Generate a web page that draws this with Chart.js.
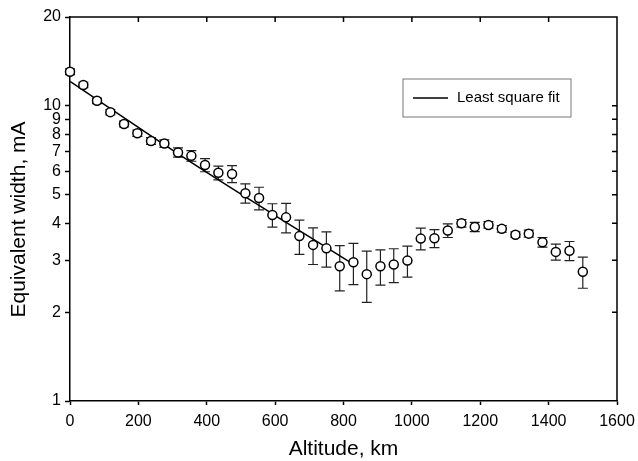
<!DOCTYPE html>
<html>
<head>
<meta charset="utf-8">
<script src="https://cdn.jsdelivr.net/npm/chart.js@4/dist/chart.umd.min.js"></script>
<style>
  html, body { margin: 0; padding: 0; background: #fff; }
</style>
</head>
<body>
<canvas id="widthChart" width="638" height="461"></canvas>
<script>
// Measured points (altitude in km, equivalent width in mA, +/- error)
const altitudeKm = [0, 39, 79, 118, 158, 197, 237, 276, 316, 355, 395, 434, 474, 513, 553, 592, 632, 671, 711, 750,
    789, 829, 868, 908, 947, 987, 1026, 1066, 1105, 1145, 1184, 1224, 1263, 1303, 1342, 1382, 1421, 1461, 1500];
const equivalentWidth = [13.05, 11.77, 10.4, 9.52, 8.68, 8.08, 7.6, 7.45, 6.95, 6.77, 6.3, 5.93, 5.88, 5.06, 4.87, 4.27, 4.19, 3.62, 3.38, 3.29,
    2.86, 2.95, 2.69, 2.86, 2.9, 2.99, 3.55, 3.56, 3.78, 4.0, 3.89, 3.95, 3.83, 3.66, 3.69, 3.45, 3.2, 3.23, 2.74];
const widthError = [0.3, 0.25, 0.22, 0.2, 0.2, 0.2, 0.2, 0.22, 0.25, 0.28, 0.32, 0.32, 0.39, 0.38, 0.43, 0.39, 0.48, 0.48, 0.48, 0.45,
    0.5, 0.47, 0.53, 0.39, 0.38, 0.36, 0.3, 0.25, 0.2, 0.12, 0.14, 0.1, 0.1, 0.08, 0.1, 0.13, 0.2, 0.24, 0.33];

// Least square fit
const fitAltitudeKm = [0, 200, 400, 600, 820];
const fitWidth = [12.1, 8.45, 5.95, 4.25, 2.95];

const xTickValues = [0, 200, 400, 600, 800, 1000, 1200, 1400, 1600];
const yTickValues = [1, 2, 3, 4, 5, 6, 7, 8, 9, 10, 20];
const yTickLabels = ['1', '2', '3', '4', '5', '6', '7', '8', '9', '10', '20'];

const legendLabel = 'Least square fit';
const xTitle = 'Altitude, km';
const yTitle = 'Equivalent width, mA';

const FONT = '"Liberation Sans", Arial, sans-serif';

const errorBars = {
    id: 'errorBars',
    beforeDatasetsDraw(chart) {
        const { ctx, scales: { x, y } } = chart;
        ctx.save();
        ctx.strokeStyle = '#222';
        ctx.lineWidth = 1.2;
        altitudeKm.forEach((alt, i) => {
            const px = x.getPixelForValue(alt);
            const top = y.getPixelForValue(equivalentWidth[i] + widthError[i]);
            const bot = y.getPixelForValue(equivalentWidth[i] - widthError[i]);
            ctx.beginPath();
            ctx.moveTo(px, top); ctx.lineTo(px, bot);
            ctx.moveTo(px - 5, top); ctx.lineTo(px + 5, top);
            ctx.moveTo(px - 5, bot); ctx.lineTo(px + 5, bot);
            ctx.stroke();
        });
        ctx.restore();
    }
};

const frame = {
    id: 'frame',
    afterDraw(chart) {
        const { ctx, chartArea: a, scales: { x, y } } = chart;
        ctx.save();
        ctx.strokeStyle = '#000';
        ctx.lineWidth = 1.5;
        ctx.beginPath();
        ctx.moveTo(a.left, a.top); ctx.lineTo(a.right, a.top); ctx.lineTo(a.right, a.bottom);
        // inward ticks on top and right
        xTickValues.slice(1, -1).forEach(v => {
            const px = x.getPixelForValue(v);
            ctx.moveTo(px, a.top); ctx.lineTo(px, a.top + 5);
        });
        yTickValues.slice(1, -1).forEach(v => {
            const py = y.getPixelForValue(v);
            ctx.moveTo(a.right, py); ctx.lineTo(a.right - 5, py);
        });
        ctx.stroke();

        // legend box
        const lx = a.left + 333, ly = a.top + 62;
        ctx.lineWidth = 1;
        ctx.strokeStyle = '#777';
        ctx.strokeRect(lx, ly, 168, 38);
        ctx.strokeStyle = '#000';
        ctx.lineWidth = 1.5;
        ctx.beginPath();
        ctx.moveTo(lx + 10, ly + 19); ctx.lineTo(lx + 45, ly + 19);
        ctx.stroke();
        ctx.fillStyle = '#000';
        ctx.font = '15px ' + FONT;
        ctx.textBaseline = 'middle';
        ctx.fillText(legendLabel, lx + 54, ly + 19);

        // axis titles
        ctx.font = '21px ' + FONT;
        ctx.textBaseline = 'alphabetic';
        ctx.textAlign = 'center';
        ctx.fillText(xTitle, (a.left + a.right) / 2, 455);
        ctx.translate(25, 219.5);
        ctx.rotate(-Math.PI / 2);
        ctx.fillText(yTitle, 0, 0);
        ctx.restore();
    }
};

new Chart(document.getElementById('widthChart'), {
    type: 'scatter',
    data: {
        datasets: [
            {
                label: 'Data',
                data: altitudeKm.map((a, i) => ({ x: a, y: equivalentWidth[i] })),
                pointRadius: 4.5,
                pointBackgroundColor: '#fff',
                pointBorderColor: '#000',
                pointBorderWidth: 1.5,
                clip: false,
                order: 1
            },
            {
                label: legendLabel,
                data: fitAltitudeKm.map((a, i) => ({ x: a, y: fitWidth[i] })),
                showLine: true,
                tension: 0.4,
                borderColor: '#000',
                borderWidth: 1.5,
                pointRadius: 0,
                order: 2
            }
        ]
    },
    options: {
        responsive: false,
        animation: false,
        layout: { padding: { top: 17, right: 21, left: 0, bottom: 0 } },
        plugins: {
            legend: { display: false },
            tooltip: { enabled: false }
        },
        scales: {
            x: {
                type: 'linear',
                min: 0,
                max: 1600,
                afterFit: s => { s.height = 60; s.paddingRight = 0; },
                afterBuildTicks: s => { s.ticks = xTickValues.map(v => ({ value: v })); },
                grid: { drawOnChartArea: false, tickLength: 4, tickColor: '#000', tickWidth: 1.5 },
                border: { color: '#000', width: 1.5 },
                ticks: {
                    font: { family: FONT, size: 16 },
                    color: '#000',
                    padding: 7,
                    maxRotation: 0,
                    callback: v => String(v)
                }
            },
            y: {
                type: 'logarithmic',
                min: 1,
                max: 20,
                afterFit: s => { s.width = 70; },
                afterBuildTicks: s => { s.ticks = yTickValues.map(v => ({ value: v })); },
                grid: { drawOnChartArea: false, tickLength: 5, tickColor: '#000', tickWidth: 1.5 },
                border: { color: '#000', width: 1.5 },
                ticks: {
                    font: { family: FONT, size: 16 },
                    color: '#000',
                    padding: 4,
                    callback: v => yTickLabels[yTickValues.indexOf(v)] ?? ''
                }
            }
        }
    },
    plugins: [errorBars, frame]
});
</script>
</body>
</html>
